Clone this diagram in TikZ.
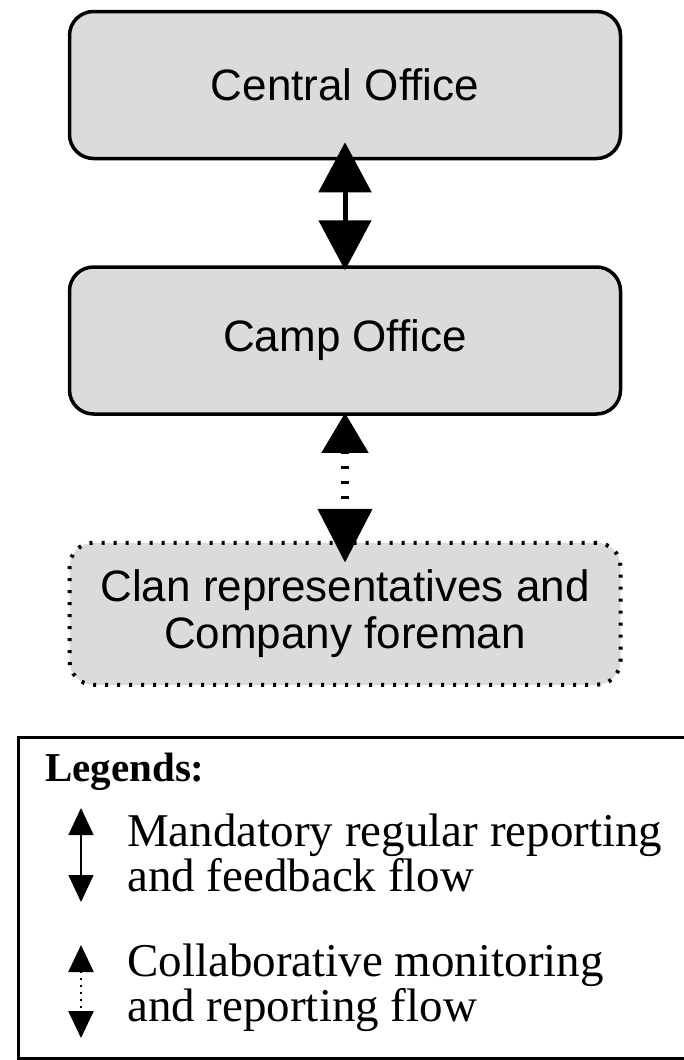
\documentclass[tikz,border=0pt]{standalone}
\usepackage{fontspec}
\setmainfont{Liberation Serif}
\newfontfamily\boxfont{Liberation Sans}
\usetikzlibrary{arrows.meta,positioning}

\begin{document}
\begin{tikzpicture}[x=1pt,y=-1pt,node distance=105pt,
  office/.style={rectangle,draw,line width=3.5pt,fill=black!14,rounded corners=24pt,
                 minimum width=551pt,minimum height=147pt,align=center,
                 font=\boxfont\fontsize{44}{47}\selectfont},
  clanbox/.style={office,line width=4pt,dash pattern=on 3pt off 9pt,minimum height=142pt},
  flow/.style={line width=5pt,{Triangle[width=52pt,length=50pt]}-{Triangle[width=52pt,length=50pt]}},
  collab/.style={line width=8pt,dash pattern=on 3pt off 12pt,
                 {Triangle[width=45pt,length=40pt]}-{Triangle[width=53pt,length=54pt]}},
  legtext/.style={anchor=west,align=left,inner sep=0pt,font=\fontsize{47}{45}\selectfont}]
\useasboundingbox (0,0) rectangle (684,1060);

% boxes
\node[office] (central) at (345,85) {Central Office};
\node[office,below=of central] (camp) {Camp Office};
\node[clanbox,below=125pt of camp] (clan) {Clan representatives and\\Company foreman};

% flows
\draw[flow,shorten <=-18pt,shorten >=-5pt] (central.south) -- (camp.north);
\draw[collab,shorten <=-3pt,shorten >=-22pt] (camp.south) -- (clan.north);

% legend
\node[draw,line width=3pt,anchor=north west,minimum width=690pt,minimum height=321pt,inner sep=0pt]
  (legend) at (16.5,735.5) {};
\node[anchor=west,inner sep=0pt,font=\bfseries\fontsize{41}{45}\selectfont] (legtitle) at (45,772) {Legends:};
\coordinate (m1) at (81,808);
\coordinate (m2) at (81,902);
\coordinate (c1) at (81,945);
\coordinate (c2) at (81,1038);
\draw[line width=1.5pt,{Triangle[width=25pt,length=27pt]}-{Triangle[width=25pt,length=27pt]}] (m1) -- (m2);
\draw[line width=2.5pt,dash pattern=on 2pt off 5pt,{Triangle[width=25pt,length=27pt]}-{Triangle[width=25pt,length=27pt]}] (c1) -- (c2);
\node[legtext] (mandatory) at (127,853) {Mandatory regular reporting\\and feedback flow};
\node[legtext] (collabtext) at (127,988) {Collaborative monitoring\\and reporting flow};
\end{tikzpicture}
\end{document}
